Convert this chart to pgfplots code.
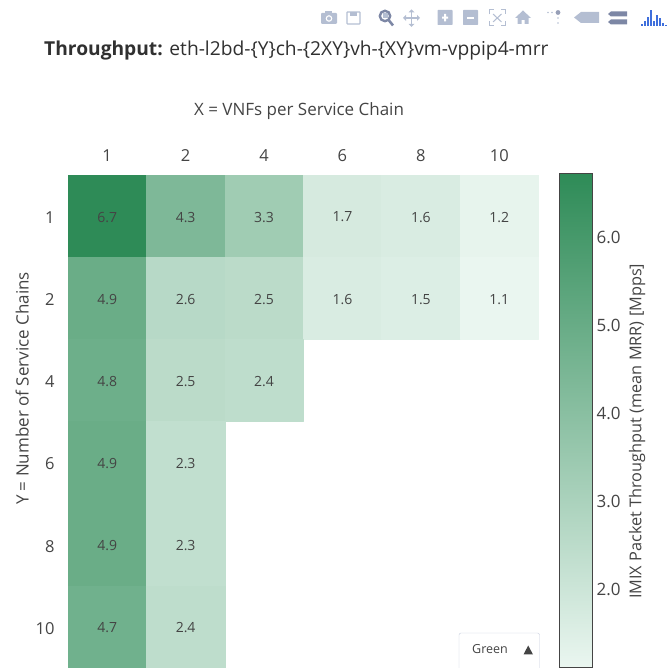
\documentclass[border=0pt]{standalone}
\usepackage{fontspec}
\setmainfont{Open Sans}
\usepackage{pgfplots}
\pgfplotsset{compat=1.18}
\definecolor{txt}{RGB}{68,68,68}
\definecolor{ico}{RGB}{180,190,210}
\definecolor{icod}{RGB}{125,135,165}
\definecolor{logo}{RGB}{63,111,220}
\pgfplotsset{/pgf/number format/assume math mode=true}
\begin{document}
\begin{tikzpicture}[x=1pt,y=1pt]
\path[use as bounding box] (0,0) rectangle (669,668);
\begin{axis}[
  at={(68pt,0pt)}, anchor=south west,
  scale only axis, width=470.5pt, height=493pt,
  xmin=-0.5, xmax=5.5, ymin=-0.5, ymax=5.5, y dir=reverse,
  axis line style={draw=none}, major tick length=0pt,
  xtick={0,1,2,3,4,5}, xticklabels={1,2,4,6,8,10},
  ytick={0,1,2,3,4,5}, yticklabels={1,2,4,6,8,10},
  xticklabel pos=top,
  tick label style={font=\fontsize{16.5}{18}\selectfont, text=txt},
  xticklabel style={yshift=10pt},
  yticklabel style={xshift=-10pt, yshift=-1.5pt},
  xlabel={X = VNFs per Service Chain},
  xlabel style={font=\fontsize{17}{19}\selectfont, text=txt, at={(axis description cs:0.491,1.1295)}, anchor=center},
  ylabel={Y = Number of Service Chains},
  ylabel style={font=\fontsize{17}{19}\selectfont, text=txt, at={(axis description cs:-0.0976,0.567)}, anchor=center},
  colormap={greens}{rgb255=(234,246,240) rgb255=(46,139,87)},
  point meta min=1.1, point meta max=6.7,
  clip=false,
]
\addplot[patch, patch type=rectangle, shader=flat, point meta=explicit] coordinates {
 (-0.5,-0.5)[6.7] (0.5,-0.5)[6.7] (0.5,0.5)[6.7] (-0.5,0.5)[6.7]
 (0.5,-0.5)[4.3] (1.5,-0.5)[4.3] (1.5,0.5)[4.3] (0.5,0.5)[4.3]
 (1.5,-0.5)[3.3] (2.5,-0.5)[3.3] (2.5,0.5)[3.3] (1.5,0.5)[3.3]
 (2.5,-0.5)[1.7] (3.5,-0.5)[1.7] (3.5,0.5)[1.7] (2.5,0.5)[1.7]
 (3.5,-0.5)[1.6] (4.5,-0.5)[1.6] (4.5,0.5)[1.6] (3.5,0.5)[1.6]
 (4.5,-0.5)[1.2] (5.5,-0.5)[1.2] (5.5,0.5)[1.2] (4.5,0.5)[1.2]
 (-0.5,0.5)[4.9] (0.5,0.5)[4.9] (0.5,1.5)[4.9] (-0.5,1.5)[4.9]
 (0.5,0.5)[2.6] (1.5,0.5)[2.6] (1.5,1.5)[2.6] (0.5,1.5)[2.6]
 (1.5,0.5)[2.5] (2.5,0.5)[2.5] (2.5,1.5)[2.5] (1.5,1.5)[2.5]
 (2.5,0.5)[1.6] (3.5,0.5)[1.6] (3.5,1.5)[1.6] (2.5,1.5)[1.6]
 (3.5,0.5)[1.5] (4.5,0.5)[1.5] (4.5,1.5)[1.5] (3.5,1.5)[1.5]
 (4.5,0.5)[1.1] (5.5,0.5)[1.1] (5.5,1.5)[1.1] (4.5,1.5)[1.1]
 (-0.5,1.5)[4.8] (0.5,1.5)[4.8] (0.5,2.5)[4.8] (-0.5,2.5)[4.8]
 (0.5,1.5)[2.5] (1.5,1.5)[2.5] (1.5,2.5)[2.5] (0.5,2.5)[2.5]
 (1.5,1.5)[2.4] (2.5,1.5)[2.4] (2.5,2.5)[2.4] (1.5,2.5)[2.4]
 (-0.5,2.5)[4.9] (0.5,2.5)[4.9] (0.5,3.5)[4.9] (-0.5,3.5)[4.9]
 (0.5,2.5)[2.3] (1.5,2.5)[2.3] (1.5,3.5)[2.3] (0.5,3.5)[2.3]
 (-0.5,3.5)[4.9] (0.5,3.5)[4.9] (0.5,4.5)[4.9] (-0.5,4.5)[4.9]
 (0.5,3.5)[2.3] (1.5,3.5)[2.3] (1.5,4.5)[2.3] (0.5,4.5)[2.3]
 (-0.5,4.5)[4.7] (0.5,4.5)[4.7] (0.5,5.5)[4.7] (-0.5,5.5)[4.7]
 (0.5,4.5)[2.4] (1.5,4.5)[2.4] (1.5,5.5)[2.4] (0.5,5.5)[2.4]
};
\addplot[only marks, mark=none, point meta=explicit symbolic,
  nodes near coords, nodes near coords align={anchor=center},
  nodes near coords style={font=\fontsize{14}{16}\selectfont, text=txt, yshift=-1pt}]
  table[meta=v] {
x y v
0 0 6.7
1 0 4.3
2 0 3.3
3 0 1.7
4 0 1.6
5 0 1.2
0 1 4.9
1 1 2.6
2 1 2.5
3 1 1.6
4 1 1.5
5 1 1.1
0 2 4.8
1 2 2.5
2 2 2.4
0 3 4.9
1 3 2.3
0 4 4.9
1 4 2.3
0 5 4.7
1 5 2.4
};
\end{axis}
% colour bar
\begin{axis}[
  at={(559pt,1pt)}, anchor=south west,
  scale only axis, width=33pt, height=493.5pt,
  xmin=0, xmax=1, ymin=1.1, ymax=6.7,
  xtick=\empty, ytick={2,3,4,5,6}, yticklabels={2.0,3.0,4.0,5.0,6.0},
  yticklabel pos=right,
  major tick length=0pt,
  axis line style={draw=txt, line width=0.8pt},
  axis on top,
  tick label style={font=\fontsize{17}{19}\selectfont, text=txt},
  yticklabel style={xshift=1pt, yshift=-2pt},
  ylabel={IMIX Packet Throughput (mean MRR) [Mpps]},
  ylabel near ticks,
  ylabel style={font=\fontsize{16.3}{18}\selectfont, text=txt, at={(axis description cs:2.37,0.4775)}, anchor=center, rotate=0},
  colormap={greens}{rgb255=(234,246,240) rgb255=(46,139,87)},
  point meta min=1.1, point meta max=6.7,
]
\addplot[patch, patch type=rectangle, shader=interp, point meta=explicit] coordinates {
 (0,1.1)[1.1] (1,1.1)[1.1] (1,6.7)[6.7] (0,6.7)[6.7]
};
\end{axis}
% title
\node[anchor=base west, inner sep=0pt, text=txt!70!black, font=\fontsize{19.2}{21}\selectfont] at (44,612) {\textbf{Throughput:} eth-l2bd-\{Y\}ch-\{2XY\}vh-\{XY\}vm-vppip4-mrr};
% dropdown
\begin{scope}
\clip (450,0) rectangle (545,640);
\draw[draw=ico!75, fill=white, rounded corners=2pt] (459,-4) rectangle (539.5,35);
\end{scope}
\node[anchor=base west, inner sep=0pt, text=txt, font=\fontsize{12.5}{14}\selectfont] at (472,14.5) {Green};
\fill[txt] (523.5,13.5) -- (533,13.5) -- (528.2,22.5) -- cycle;
% modebar
\begin{scope}[yshift=650]
 % camera
 \fill[ico,rounded corners=1pt] (321,-6) rectangle (337,5);
 \fill[ico] (325,5) rectangle (332,7);
 \fill[white] (329,-0.5) circle (3.3); \fill[ico] (329,-0.5) circle (2);
 % save
 \draw[ico,line width=1.2pt,rounded corners=0.6pt] (347,-6) rectangle (360,6);
 \fill[ico] (350,1.5) rectangle (357,6);
 % zoom
 \draw[icod,line width=2.4pt] (385,2) circle (5.2);
 \draw[icod,line width=2.6pt] (389,-2.5) -- (393,-7.5);
 \fill[ico] (382.5,-0.5) rectangle (387.5,4.5);
 % pan
 \draw[ico,line width=1.4pt] (404,0) -- (419,0) (411.5,-8) -- (411.5,7.5);
 \fill[ico] (403,0) -- (406,3) -- (406,-3) -- cycle (420,0) -- (417,3) -- (417,-3) -- cycle
   (411.5,8.5) -- (408.5,5.5) -- (414.5,5.5) -- cycle (411.5,-9) -- (408.5,-6) -- (414.5,-6) -- cycle;
 % zoom in / out
 \fill[ico,rounded corners=0.6pt] (437.5,-7) rectangle (452.5,8);
 \fill[white] (442,-0.7) rectangle (448,1.3) (444,-3.5) rectangle (446,4);
 \fill[ico,rounded corners=0.6pt] (463,-7) rectangle (478,8);
 \fill[white] (467,-0.7) rectangle (474,1.3);
 % autoscale
 \draw[ico,line width=1pt] (489,3.5) -- (489,8) -- (493.5,8) (501,8) -- (505.5,8) -- (505.5,3.5)
   (505.5,-3) -- (505.5,-7.5) -- (501,-7.5) (493.5,-7.5) -- (489,-7.5) -- (489,-3);
 \draw[ico,line width=1pt] (493,4) -- (501.5,-4) (493,-4) -- (501.5,4);
 % home
 \fill[ico] (515,0) -- (523,7.5) -- (531,0) -- (528.5,0) -- (528.5,-6) -- (524.5,-6) -- (524.5,-2) -- (521.5,-2) -- (521.5,-6) -- (517.5,-6) -- (517.5,0) -- cycle;
 % spikes
 \fill[ico] (548,5.5) circle (0.9) (552,5.5) circle (0.9);
 \fill[icod!80] (558,5.5) circle (2.4);
 \fill[ico] (558,0) circle (0.9) (558,-5) circle (0.9);
 % hover closest
 \fill[ico] (574,0.5) -- (581,6) -- (599,6) -- (599,-5) -- (581,-5) -- cycle;
 % hover compare
 \fill[icod] (611,6.5) -- (627,6.5) -- (627,1.5) -- (611,1.5) -- (608,4) -- cycle;
 \fill[icod] (611,-1.5) -- (627,-1.5) -- (627,-6.5) -- (611,-6.5) -- (608,-4) -- cycle;
 % logo
 \foreach \x/\h in {642/1.5,645/5,648/9,651/16,654/5,657/11,660/8,663/3,666/1}
   \fill[logo] (\x-1.1,-8) rectangle (\x+1.1,-8+\h);
\end{scope}
\end{tikzpicture}
\end{document}
